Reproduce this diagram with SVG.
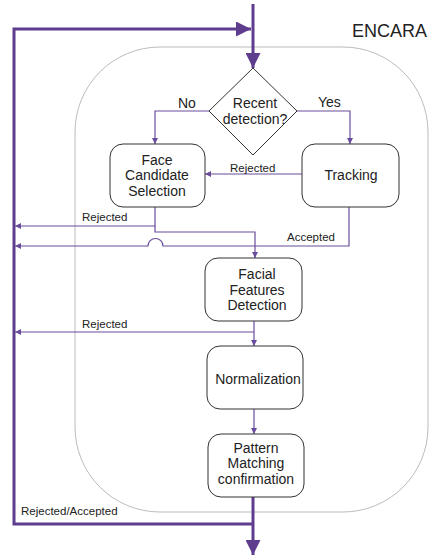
<svg xmlns="http://www.w3.org/2000/svg" width="430" height="556" viewBox="0 0 430 556">
<style>
.box{fill:#fff;stroke:#333;stroke-width:1}
.t{font-family:"Liberation Sans",Arial,sans-serif;font-size:14px;fill:#222;text-anchor:middle}
.lbl{font-family:"Liberation Sans",Arial,sans-serif;font-size:11.5px;fill:#222}
.thin{fill:none;stroke:#6a4c9c;stroke-width:1.2}
.thick{fill:none;stroke:#5e3c8e;stroke-width:3}
</style>
<defs>
<marker id="a" viewBox="0 0 10 10" refX="10" refY="5" markerWidth="6" markerHeight="6" markerUnits="userSpaceOnUse" orient="auto"><path d="M0,0L10,5L0,10z" fill="#6a4c9c"/></marker>
<marker id="A" viewBox="0 0 10 10" refX="10" refY="5" markerWidth="15" markerHeight="15" markerUnits="userSpaceOnUse" orient="auto"><path d="M0,0L10,5L0,10z" fill="#5e3c8e"/></marker>
</defs>
<g id="container"><rect x="75" y="47" width="353" height="465" rx="85" ry="85" fill="none" stroke="#aaa" stroke-width="0.8"/>
<text x="352" y="37" style="font-family:'Liberation Sans',Arial,sans-serif;font-size:18px;fill:#222">ENCARA</text></g>
<g id="connectors">
<path class="thick" d="M253,4V68" marker-end="url(#A)"/>
<path class="thick" d="M253,524H14V29H251" marker-end="url(#A)"/>
<path class="thick" d="M253,497V555" marker-end="url(#A)"/>
<path class="thin" d="M209,111H155V144" marker-end="url(#a)"/>
<path class="thin" d="M297,111H350V144" marker-end="url(#a)"/>
<path class="thin" d="M302,174H205" marker-end="url(#a)"/>
<path class="thin" d="M155,207V226H15" marker-end="url(#a)"/>
<path class="thin" d="M155,226V232H255V258" marker-end="url(#a)"/>
<path class="thin" d="M349,207V246H163A7.5,7.5 0 0 0 148,246H15" marker-end="url(#a)"/>
<path class="thin" d="M254,321V346" marker-end="url(#a)"/>
<path class="thin" d="M254,332H15" marker-end="url(#a)"/>
<path class="thin" d="M254,409V434" marker-end="url(#a)"/>
<text class="lbl" x="178" y="108" style="font-size:14px">No</text>
<text class="lbl" x="318" y="107" style="font-size:14px">Yes</text>
<text class="lbl" x="230" y="172">Rejected</text>
<text class="lbl" x="82" y="221">Rejected</text>
<text class="lbl" x="287" y="241">Accepted</text>
<text class="lbl" x="82" y="328">Rejected</text>
<text class="lbl" x="21" y="515">Rejected/Accepted</text>
</g>
<g id="decision"><path class="box" d="M253,68L297,111L253,155L209,111z"/>
<text class="t" x="255" y="108">Recent</text><text class="t" x="255" y="124">detection?</text></g>
<g id="face-candidate"><rect class="box" x="110" y="144" width="95" height="63" rx="13"/>
<text class="t" x="157" y="165">Face</text><text class="t" x="157" y="180">Candidate</text><text class="t" x="157" y="196">Selection</text></g>
<g id="tracking"><rect class="box" x="302" y="144" width="97" height="63" rx="13"/>
<text class="t" x="351" y="180">Tracking</text></g>
<g id="facial-features"><rect class="box" x="205" y="258" width="97" height="63" rx="13"/>
<text class="t" x="257" y="279">Facial</text><text class="t" x="257" y="295">Features</text><text class="t" x="257" y="310">Detection</text></g>
<g id="normalization"><rect class="box" x="207" y="346" width="96" height="63" rx="13"/>
<text class="t" x="258" y="384">Normalization</text></g>
<g id="pattern-matching"><rect class="box" x="208" y="434" width="96" height="63" rx="13"/>
<text class="t" x="256" y="453">Pattern</text><text class="t" x="256" y="468">Matching</text><text class="t" x="256" y="484">confirmation</text></g>
</svg>
